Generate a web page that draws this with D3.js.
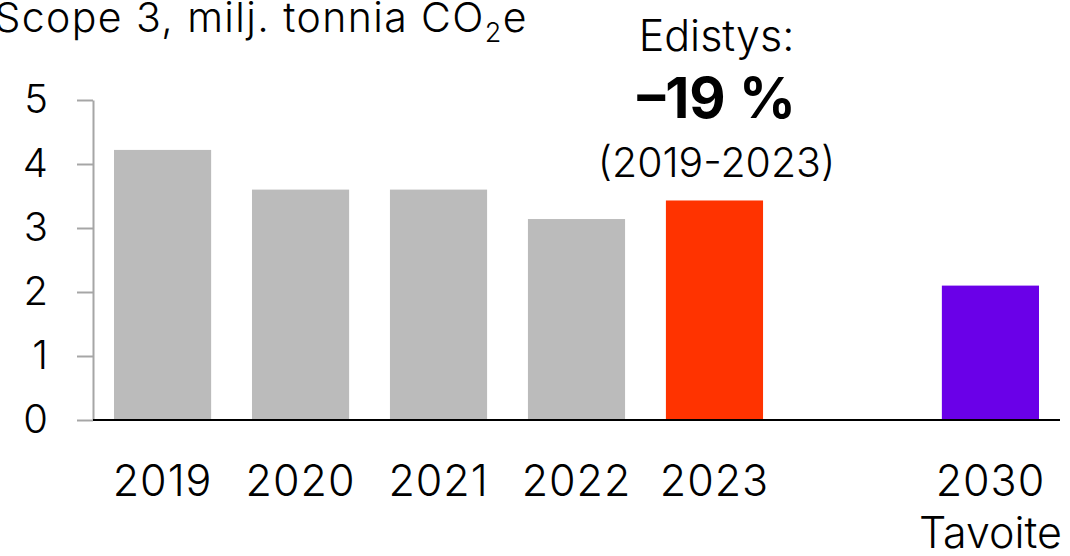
<!DOCTYPE html>
<html>
<head>
<meta charset="utf-8">
<script src="https://cdn.jsdelivr.net/npm/d3@7"></script>
<style>
  body { margin: 0; background: #fff; }
  svg { display: block; font-family: Inter, Lato, sans-serif; }
</style>
</head>
<body>
<svg id="chart" width="1070" height="556"></svg>
<script>
// chart data
const years = ["2019", "2020", "2021", "2022", "2023", "", "2030"];
const emissions = [4.22, 3.6, 3.6, 3.14, 3.43, null, 2.1];
const barColors = ["#bbbbbb", "#bbbbbb", "#bbbbbb", "#bbbbbb", "#ff3300", null, "#6a00e8"];
const yTicks = [0, 1, 2, 3, 4, 5];
const subLabels = ["", "", "", "", "", "", "Tavoite"];
const noteLines = ["Edistys:", "\u201319 %", "(2019-2023)"];

let svg = d3.select("#chart");

let xScale = d3.scaleBand()
    .domain(years)
    .range([114, 1039])
    .paddingInner(0.296)
    .paddingOuter(0);

let yScale = d3.scaleLinear()
    .domain([0, 5])
    .range([420, 100]);

// y axis (grey)
let yAxis = d3.axisLeft(yScale)
    .tickValues(yTicks)
    .tickFormat(d3.format("d"))
    .tickSize(16)
    .tickSizeOuter(0)
    .tickPadding(29);

let yG = svg.append("g")
    .attr("transform", "translate(93,0)")
    .call(yAxis);
yG.select(".domain").attr("stroke", "#a6a6a6").attr("stroke-width", 2);
yG.selectAll(".tick line").attr("stroke", "#a6a6a6").attr("stroke-width", 2);
yG.selectAll(".tick text")
    .attr("fill", "#000")
    .style("font-size", "40px")
    .style("font-weight", 300)
    .style("font-family", "Inter, sans-serif");

// bars
let data = years.map(function (d, i) {
    return { year: d, value: emissions[i], color: barColors[i], sub: subLabels[i] };
}).filter(function (d) { return d.value != null; });

svg.append("g").selectAll("rect")
    .data(data)
    .enter().append("rect")
    .attr("x", function (d) { return xScale(d.year); })
    .attr("width", xScale.bandwidth())
    .attr("y", function (d) { return yScale(d.value); })
    .attr("height", function (d) { return yScale(0) - yScale(d.value); })
    .attr("fill", function (d) { return d.color; });

// baseline
svg.append("line")
    .attr("x1", 93).attr("x2", 1060)
    .attr("y1", yScale(0)).attr("y2", yScale(0))
    .attr("stroke", "#000").attr("stroke-width", 2);

// x labels
let xl = svg.append("g").selectAll("g")
    .data(data)
    .enter().append("g")
    .attr("transform", function (d) { return "translate(" + (xScale(d.year) + xScale.bandwidth() / 2) + ",0)"; });

xl.append("text")
    .attr("y", 496)
    .attr("text-anchor", "middle")
    .style("font-size", "43px")
    .style("font-weight", 300)
    .style("letter-spacing", "1px")
    .text(function (d) { return d.year; });

xl.append("text")
    .attr("y", 548)
    .attr("text-anchor", "middle")
    .style("font-size", "43px")
    .style("font-weight", 300)
    .text(function (d) { return d.sub; });

// title
let title = svg.append("text")
    .attr("x", 528)
    .attr("y", 32)
    .attr("text-anchor", "end")
    .style("font-size", "41px")
    .style("font-weight", 300)
    .style("letter-spacing", "1.4px");
title.append("tspan").text("Scope 3, milj. tonnia CO");
title.append("tspan").attr("dy", 10).style("font-size", "27px").text("2");
title.append("tspan").attr("dy", -10).text("e");

// note above 2023
let noteX = xScale("2023") + xScale.bandwidth() / 2 + 2;
svg.append("text")
    .attr("x", noteX).attr("y", 51)
    .attr("text-anchor", "middle")
    .style("font-size", "43px")
    .style("font-weight", 300)
    .text(noteLines[0]);
svg.append("text")
    .attr("x", noteX).attr("y", 118)
    .attr("text-anchor", "middle")
    .style("font-size", "56px")
    .style("font-weight", "bold")
    .text(noteLines[1]);
svg.append("text")
    .attr("x", noteX).attr("y", 177)
    .attr("text-anchor", "middle")
    .style("font-size", "41px")
    .style("font-weight", 300)
    .text(noteLines[2]);
</script>
</body>
</html>
